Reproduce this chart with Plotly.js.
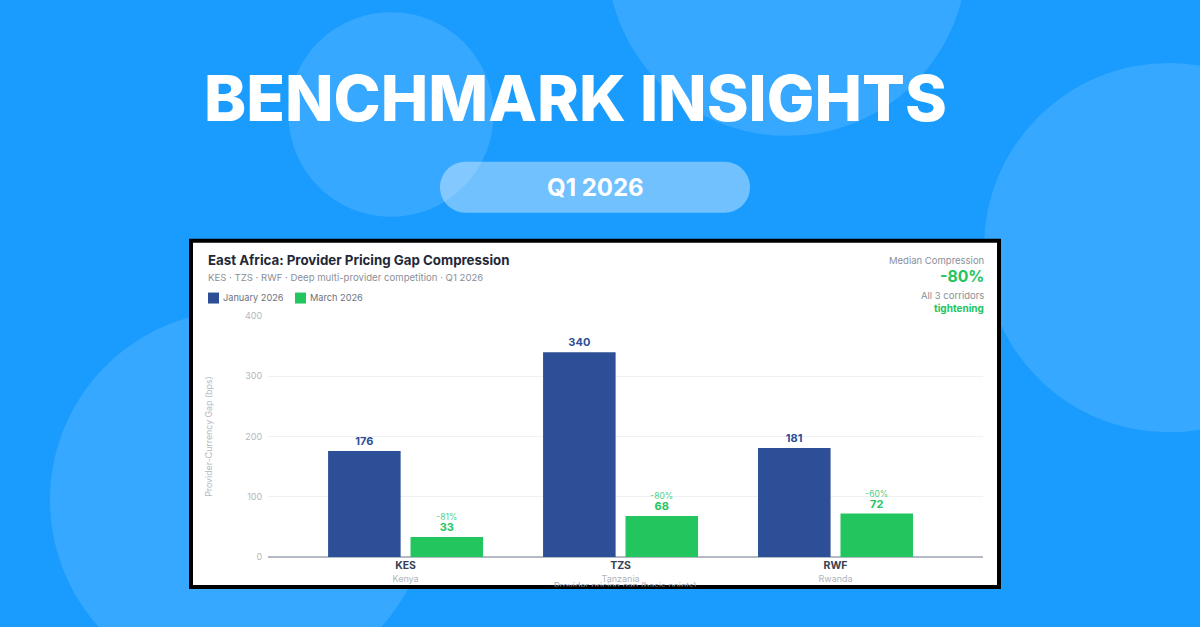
<!DOCTYPE html>
<html><head><meta charset="utf-8">
<script src="https://cdn.plot.ly/plotly-3.0.1.min.js"></script>
<style>html,body{margin:0;padding:0;background:#1a9cff}#c{width:1200px;height:627px}</style>
</head><body><div id="c"></div>
<script>
const categories = ['KES','TZS','RWF'];
const countries = ['Kenya','Tanzania','Rwanda'];
const jan2026 = [176,340,181];
const mar2026 = [33,68,72];
const changes = ['-81%','-80%','-60%'];
const yTicks = [0,100,200,300,400];
const seriesNames = ['January 2026','March 2026'];
const BLUE='#2c4f97', GREEN='#22c55e', FONT='Inter, sans-serif';
const W=1200,H=627;
const L=268,R=983,T=315.5,B=557;
const px=x=>(x-L)/(R-L), py=y=>(B-y)/(B-T);
function circle(cx,cy,r,fill){return {type:'circle',xref:'paper',yref:'paper',layer:'below',x0:px(cx-r),x1:px(cx+r),y0:py(cy+r),y1:py(cy-r),fillcolor:fill,line:{width:0}};}
function rect(x0,y0,x1,y1,fill){return {type:'rect',xref:'paper',yref:'paper',layer:'below',x0:px(x0),x1:px(x1),y0:py(y1),y1:py(y0),fillcolor:fill,line:{width:0}};}
function pill(x0,y0,x1,y1,fill){const r=(y1-y0)/2,k=r*0.5523;
 const P=(x,y)=>px(x)+','+py(y);
 const d='M'+P(x0+r,y0)+' L'+P(x1-r,y0)+' C'+P(x1-r+k,y0)+' '+P(x1,y0+r-k)+' '+P(x1,y0+r)+' C'+P(x1,y0+r+k)+' '+P(x1-r+k,y1)+' '+P(x1-r,y1)+' L'+P(x0+r,y1)+' C'+P(x0+r-k,y1)+' '+P(x0,y0+r+k)+' '+P(x0,y0+r)+' C'+P(x0,y0+r-k)+' '+P(x0+r-k,y0)+' '+P(x0+r,y0)+' Z';
 return {type:'path',xref:'paper',yref:'paper',layer:'below',path:d,fillcolor:fill,line:{width:0}};}
function note(x,y,text,size,color,anchor,weight){return {xref:'paper',yref:'paper',x:px(x),y:py(y),text:text,showarrow:false,xanchor:anchor||'left',yanchor:'middle',font:{family:FONT,size:size,color:color,weight:weight||400},borderpad:0,borderwidth:0};}
const LIGHT='rgba(255,255,255,0.13)';
const shapes=[
 circle(391,113.5,102.5,LIGHT),circle(787,-45,180,LIGHT),circle(1169,247,185,LIGHT),circle(240,500,190,LIGHT),
 pill(440,161,750,212,'rgba(255,255,255,0.38)'),
 rect(189,238,1001,589,'#000000'),rect(193,242,997,585,'#ffffff'),
 rect(208,292,219,303,BLUE),rect(295,292,306,303,GREEN)
];
const AXIS_NOTE='Provider pricing gap (basis points)';
const annotations=[
 note(575.5,97,'BENCHMARK INSIGHTS',63.5,'#ffffff','center',800),
 note(595,186.5,'Q1 2026',24,'#ffffff','center',700),
 note(208,259.5,'East Africa: Provider Pricing Gap Compression',13.3,'#1f2937','left',700),
 note(208,277,'KES · TZS · RWF · Deep multi-provider competition · Q1 2026',9.6,'#8a8f98'),
 note(223,297,seriesNames[0],9.2,'#6b7280'),
 note(310,297,seriesNames[1],9.2,'#6b7280'),
 note(984,259.5,'Median Compression',9.5,'#8a8f98','right'),
 note(984,275.5,'-80%',15.8,GREEN,'right',700),
 note(984,294.5,'All 3 corridors',9.5,'#8a8f98','right'),
 note(984,307.5,'tightening',10,GREEN,'right',700),
 note(625.5,585.5,AXIS_NOTE,8.8,'#9ca3af','center')
];
const tickText=categories.map((c,i)=>'<b>'+c+'</b><br><span style="font-size:9px;color:#b0b5bd">'+countries[i]+'</span>');
const janTrace={type:'bar',x:categories,y:jan2026,name:seriesNames[0],marker:{color:BLUE},
 text:jan2026.map(v=>'<b>'+v+'</b>'),textposition:'outside',cliponaxis:false,textfont:{family:FONT,size:11,color:BLUE}};
const marTrace={type:'bar',x:categories,y:mar2026,name:seriesNames[1],marker:{color:GREEN},
 text:mar2026.map((v,i)=>'<span style="font-weight:400;color:#55d186">'+changes[i]+'</span><br><span style="font-size:11px"><b>'+v+'</b></span>'),textposition:'outside',cliponaxis:false,textfont:{family:FONT,size:8.5,color:GREEN}};
const layout={
 width:W,height:H,autosize:false,paper_bgcolor:'#1a9cff',plot_bgcolor:'rgba(0,0,0,0)',showlegend:false,
 margin:{l:L,r:W-R,t:T,b:H-B,pad:0},
 barmode:'group',bargap:0.233,bargroupgap:0.12,
 font:{family:FONT},
 xaxis:{type:'category',categoryorder:'array',categoryarray:categories,range:[-0.64,2.686],tickmode:'array',tickvals:categories,ticktext:tickText,
  showgrid:false,zeroline:false,showline:false,ticks:'',tickfont:{family:FONT,size:10.5,color:'#374151'}},
 yaxis:{range:[0,400],tickvals:yTicks,ticktext:yTicks.map(String),gridcolor:'#eef0f3',gridwidth:1,zeroline:true,zerolinecolor:'#b4bac4',zerolinewidth:1.5,
  showline:false,ticks:'outside',ticklen:3,tickcolor:'rgba(0,0,0,0)',tickfont:{family:FONT,size:9,color:'#b4b8bf'},
  title:{text:'Provider-Currency Gap (bps)',font:{family:FONT,size:8.8,color:'#b4b8bf'},standoff:30}},
 shapes:shapes,annotations:annotations
};
Plotly.newPlot('c',[janTrace,marTrace],layout,{displayModeBar:false,staticPlot:true}).then(gd=>{
 // The reference's axis note is cut off by the card's lower border.
 gd.querySelectorAll('.annotation').forEach(a=>{
  if(a.textContent.indexOf(AXIS_NOTE)>=0) a.style.clipPath='inset(0 0 40% 0)';
 });
});
</script></body></html>
